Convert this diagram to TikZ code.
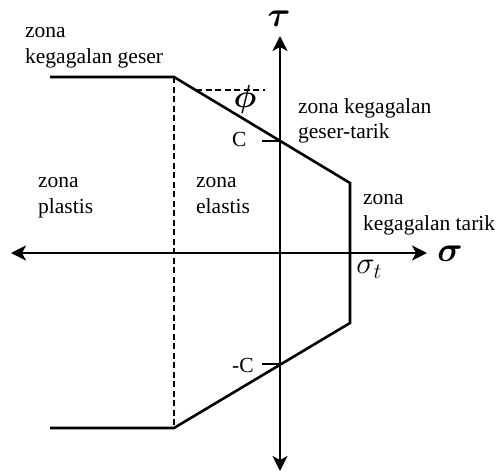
\documentclass[tikz,border=0pt]{standalone}
\usepackage{fix-cm}
\usepackage{amsmath,bm}
\usepackage{fontspec}
\setmainfont{Liberation Serif}
\usetikzlibrary{arrows.meta}
\tikzset{
  lbl/.style={anchor=base west,inner sep=0pt,font=\fontsize{21.5}{26}\selectfont},
  sym/.style={anchor=center,inner sep=0pt},
  axisline/.style={line width=2.2pt,-{Stealth[length=15pt,width=15pt,inset=4pt]}},
  envelope/.style={line width=2.6pt,line join=miter},
  guide/.style={line width=2.6pt,dash pattern=on 6pt off 3.5pt},
}
\begin{document}
\begin{tikzpicture}[x=1pt,y=-1pt]
\useasboundingbox (0,0) rectangle (499,472);
% points
\coordinate (O) at (280,253);
\coordinate (L) at (11,253);
\coordinate (R) at (427,253);
\coordinate (T) at (280,36);
\coordinate (B) at (280,471);
\coordinate (A1) at (50,77);
\coordinate (A2) at (174,77);
\coordinate (A3) at (350,183);
\coordinate (A4) at (350,323);
\coordinate (A5) at (174,428);
\coordinate (A6) at (50,428);
\coordinate (Cp) at (280,141);
\coordinate (Ct) at (262,141);
\coordinate (Cm) at (280,364);
\coordinate (Cmt) at (262,364);
\coordinate (P1) at (196,90);
\coordinate (P2) at (265,90);
% axes
\draw[axisline] (O) -- (L);
\draw[axisline] (O) -- (R);
\draw[axisline] (O) -- (T);
\draw[axisline] (O) -- (B);
% envelope
\draw[envelope] (A1) -- (A2) -- (A3) -- (A4) -- (A5) -- (A6);
\draw[guide] (A2) -- (A5);
\draw[guide] (P1) -- (P2);
\draw[line width=1.3pt] (Ct) -- (Cp);
\draw[line width=1.3pt] (Cmt) -- (Cm);
% labels
\node[lbl] (z1) at (25,37) {zona};
\node[lbl] (z1b) at (25,63) {kegagalan geser};
\node[lbl] (z2) at (298,113) {zona kegagalan};
\node[lbl] (z2b) at (298,138) {geser-tarik};
\node[lbl] (z3) at (38,187) {zona};
\node[lbl] (z3b) at (38,213) {plastis};
\node[lbl] (z4) at (196,187) {zona};
\node[lbl] (z4b) at (196,213) {elastis};
\node[lbl] (z5) at (363,204) {zona};
\node[lbl] (z5b) at (363,230) {kegagalan tarik};
\node[lbl] (c1) at (232,146) {C};
\node[lbl] (c2) at (232,372) {-C};
\node[sym,font=\fontsize{32}{34}\selectfont] (phi) at (245,99) {$\bm{\phi}$};
\node[sym,font=\fontsize{35}{38}\selectfont] (tau) at (279,19) {$\bm{\tau}$};
\node[sym,font=\fontsize{35}{38}\selectfont] (sig) at (450,254) {$\bm{\sigma}$};
\node[sym,font=\fontsize{31}{33}\selectfont] (sigt) at (369,269) {$\sigma_t$};
\end{tikzpicture}
\end{document}
